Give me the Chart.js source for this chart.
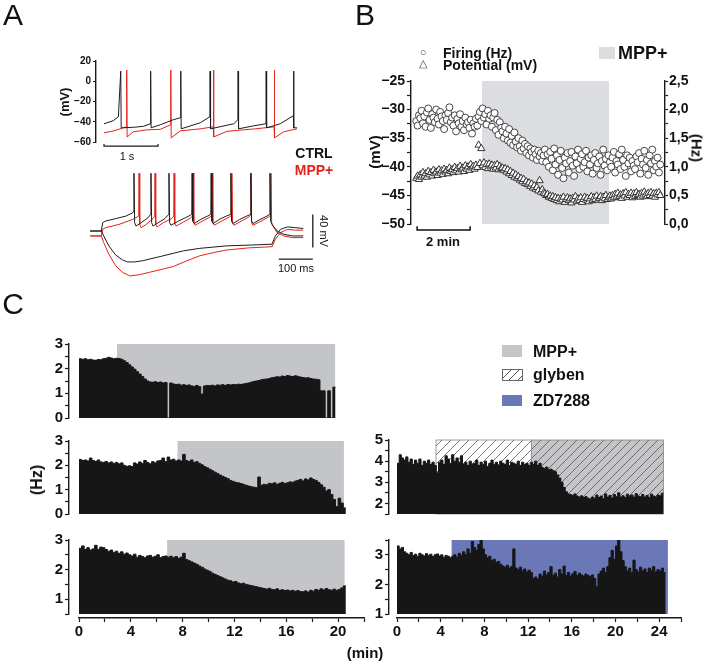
<!DOCTYPE html>
<html>
<head>
<meta charset="utf-8">
<script src="https://cdn.jsdelivr.net/npm/chart.js@4.4.1/dist/chart.umd.min.js"></script>
<style>
body { margin: 0; background: #fff; }
#fig { position: relative; width: 709px; height: 662px; overflow: hidden; font-family: "Liberation Sans", Arial, sans-serif; color: #111; }
#fig canvas { position: absolute; left: 0; top: 0; }
.t { position: absolute; white-space: nowrap; font-weight: bold; line-height: 1; transform: translate(-50%, -50%); }
.l { position: absolute; white-space: nowrap; font-weight: bold; line-height: 1; transform: translate(0, -50%); }
.box { position: absolute; }
</style>
</head>
<body>
<div id="fig">
  <canvas id="aTop" width="709" height="662"></canvas>
  <canvas id="aBot" width="709" height="662"></canvas>
  <canvas id="b" width="709" height="662"></canvas>
  <canvas id="c1" width="709" height="662"></canvas>
  <canvas id="c2" width="709" height="662"></canvas>
  <canvas id="c3" width="709" height="662"></canvas>
  <canvas id="c4" width="709" height="662"></canvas>
  <canvas id="c5" width="709" height="662"></canvas>
  <canvas id="cxL" width="709" height="662"></canvas>
  <canvas id="cxR" width="709" height="662"></canvas>

  <!-- panel letters -->
  <div class="t" style="left:13px;top:15px;font-size:30px;font-weight:normal">A</div>
  <div class="t" style="left:365px;top:15px;font-size:30px;font-weight:normal">B</div>
  <div class="t" style="left:13px;top:304px;font-size:30px;font-weight:normal">C</div>

  <!-- panel A -->
  <div class="t" style="left:64px;top:102px;font-size:13px;transform:translate(-50%,-50%) rotate(-90deg)">(mV)</div>
  <div class="t" style="left:127px;top:156px;font-size:11px;font-weight:normal">1 s</div>
  <div class="t" style="left:314px;top:153px;font-size:14px">CTRL</div>
  <div class="t" style="left:314px;top:170px;font-size:14px;color:#e2231a">MPP+</div>
  <div class="t" style="left:323px;top:231px;font-size:11px;font-weight:normal;transform:translate(-50%,-50%) rotate(90deg)">40 mV</div>
  <div class="t" style="left:296px;top:268px;font-size:11px;font-weight:normal">100 ms</div>

  <!-- panel B -->
  <div class="t" style="left:423px;top:52px;font-size:11px;font-weight:normal;color:#444">○</div>
  <div class="l" style="left:443px;top:53px;font-size:14px">Firing (Hz)</div>
  <div class="t" style="left:423px;top:63px;font-size:11px;font-weight:normal;color:#444">△</div>
  <div class="l" style="left:443px;top:65px;font-size:14px">Potential (mV)</div>
  <div class="box" style="left:599px;top:47px;width:16px;height:12px;background:#dcdde1"></div>
  <div class="l" style="left:618px;top:53px;font-size:18px">MPP+</div>
  <div class="t" style="left:374px;top:152px;font-size:15px;transform:translate(-50%,-50%) rotate(-90deg)">(mV)</div>
  <div class="t" style="left:697px;top:148px;font-size:15px;transform:translate(-50%,-50%) rotate(90deg)">(Hz)</div>
  <div class="t" style="left:443px;top:241px;font-size:13px">2 min</div>

  <!-- panel C -->
  <div class="box" style="left:502px;top:345px;width:20px;height:12px;background:#c4c5c9"></div>
  <div class="l" style="left:533px;top:352px;font-size:16px">MPP+</div>
  <div class="box" style="left:502px;top:369px;width:19px;height:10px;border:0.8px solid #666;background:repeating-linear-gradient(135deg,#fff 0 5px,#555 5px 6px)"></div>
  <div class="l" style="left:533px;top:375px;font-size:16px">glyben</div>
  <div class="box" style="left:502px;top:395px;width:20px;height:11px;background:#6a78b8"></div>
  <div class="l" style="left:533px;top:401px;font-size:16px">ZD7288</div>
  <div class="t" style="left:37px;top:480px;font-size:16px;transform:translate(-50%,-50%) rotate(-90deg)">(Hz)</div>
  <div class="t" style="left:365px;top:652px;font-size:15px">(min)</div>
</div>

<script>
// ---------------- data ----------------

// Panel A top: spontaneous firing, [s, mV]
const ctrlTop = [[0,-42],[0.17,-39],[0.266,-35],[0.31,10],[0.318,-46],[0.54,-45.5],[0.73,-44.5],[0.859,-42],[0.863,10],[0.871,-46],
  [1.04,-43],[1.28,-38],[1.416,-36],[1.42,10],[1.428,-47],[1.78,-41],[1.959,-35],[1.963,10],[1.971,-47],[2.40,-42],[2.477,-38],
  [2.481,10],[2.489,-47],[2.77,-44],[2.996,-42],[3.0,10],[3.008,-46],[3.26,-42],[3.502,-34],[3.506,10],[3.514,-46],[3.57,-46]];
const mppTop = [[0,-51],[0.18,-49],[0.416,-45],[0.42,11],[0.428,-55],[0.54,-50],[0.79,-48],[1.04,-47.5],[1.231,-43],[1.235,11],
  [1.243,-56],[1.41,-49],[1.78,-47],[2.021,-45],[2.025,11],[2.033,-55],[2.27,-49.5],[2.58,-48],[2.80,-47],[3.146,-45],[3.15,11],
  [3.158,-56],[3.32,-50],[3.57,-47]];

// Panel A bottom: current steps, [ms, mV]
const ctrlDep = [[-35,-60],[-2,-60],[2,-50],[10,-48],[40,-45],[70,-42],[90,-38],[93,-36],[94,10],[96,-50],[100,-54],[115,-50],
  [135,-44],[143,-40],[144,10],[146,-50],[150,-54],[165,-50],[185,-45],[196,-40],[197,10],[199,-50],[203,-53],[225,-48],[245,-44],
  [264,-40],[265,10],[267,-48],[271,-51],[290,-46],[310,-42],[320,-40],[321,10],[323,-48],[327,-51],[345,-46],[365,-42],[378,-40],
  [379,10],[381,-48],[385,-51],[405,-46],[425,-42],[437,-40],[438,10],[440,-48],[444,-51],[465,-46],[485,-42],[493,-40],[494,10],
  [496,-48],[500,-52],[515,-60],[535,-64],[560,-66],[592,-66]];
const mppDep = [[-35,-66],[-2,-66],[2,-58],[10,-56],[50,-52],[90,-46],[108,-42],[109,10],[111,-52],[115,-56],[130,-52],[150,-45],
  [155,-42],[156,10],[158,-52],[162,-55],[180,-50],[205,-45],[211,-42],[212,10],[214,-51],[218,-54],[240,-49],[262,-44],[267,-41],
  [268,10],[270,-50],[274,-53],[295,-48],[318,-43],[323,-41],[324,10],[326,-50],[330,-53],[352,-48],[375,-43],[381,-41],[382,10],
  [384,-50],[388,-53],[410,-48],[432,-43],[437,-41],[438,10],[440,-50],[444,-53],[468,-48],[490,-43],[496,-41],[497,10],[499,-50],
  [503,-54],[515,-62],[535,-66],[560,-68],[592,-68]];
const ctrlHyp = [[-35,-60],[-2,-60],[5,-66],[20,-78],[40,-89],[60,-95],[75,-97.5],[95,-97.5],[120,-96],[150,-93],[171,-91],
  [200,-88],[240,-84],[288,-81],[367,-78],[440,-77],[500,-76],[510,-66],[525,-58],[545,-55],[570,-56],[592,-57]];
const mppHyp = [[-35,-66],[-2,-66],[5,-74],[20,-88],[40,-102],[60,-110],[82,-114.5],[110,-113],[140,-110],[171,-107],[210,-103],
  [250,-96],[288,-90],[330,-86],[367,-83],[430,-80.5],[500,-79],[510,-70],[525,-62],[545,-58],[570,-59],[592,-59]];

// Panel B: one sample every 0.05 min starting at 0.2 min
const bStart = 0.2, bStep = 0.05;
const firingHz = [
  1.80,1.72,1.90,1.85,1.98,1.76,1.88,1.70,1.95,2.02, 1.82,1.68,1.92,1.86,1.78,2.00,1.84,1.74,1.96,1.88,
  1.80,1.66,1.90,1.82,1.94,2.04,1.78,1.86,1.72,1.90, 1.62,1.84,1.76,1.92,1.70,1.80,1.64,1.86,1.74,1.78,
  1.68,1.82,1.58,1.76,1.70,1.84,1.72,
  1.88,1.96,1.80,2.02,1.86,1.92,1.74,1.98,1.84,1.90, 1.70,1.86,1.94,1.64,1.82,1.56,1.78,1.68,
  1.62,1.50,1.70,1.58,1.46,1.66,1.42,1.54,1.38,1.60, 1.44,1.34,1.50,1.36,1.28,1.46,1.32,1.40,1.24,1.36,
  1.20,1.32,1.26,1.16,1.30,1.22,1.12,1.28,1.18,1.24, 1.10,1.20,
  1.30,1.08,1.22,1.00,1.26,1.14,0.94,1.32,1.04,1.20, 0.86,1.12,1.28,0.98,0.80,1.16,1.06,1.24,0.90,1.10,
  1.26,1.02,0.84,1.18,1.06,1.30,0.96,1.14,1.22,1.00, 1.08,1.28,0.92,1.16,1.04,1.20,0.88,1.12,1.24,0.98,
  1.06,1.18,0.86,1.10,1.30,1.02,1.14,0.94,1.20,1.08,
  1.00,1.16,1.26,0.90,1.10,1.04,1.22,0.96,1.30,1.12, 1.00,0.84,1.20,1.06,1.16,0.92,1.10,1.02,0.96,1.18,
  1.08,1.24,0.88,1.14,1.04,1.28,0.98,1.12,0.86,1.20, 1.06,1.30,0.94,1.10,1.00,1.16,0.90,1.04];
const potentialMv = [
  -42.0,-41.6,-42.2,-41.4,-41.8,-41.0,-41.6,-41.2,-41.8,-40.8, -41.4,-41.0,-41.6,-40.6,-41.2,-40.9,-41.5,-40.5,-41.1,-40.7,
  -41.3,-40.4,-40.9,-40.6,-41.2,-40.2,-40.8,-40.5,-41.0,-40.1, -40.7,-40.3,-40.9,-39.9,-40.5,-40.2,-40.8,-39.8,-40.4,-40.0,
  -40.6,-39.6,-40.2,-39.9,-40.4,-39.7,-40.1,
  -36.2,-39.4,-36.8,-39.8,-39.3,-40.1,-39.6,-40.3,-39.5,-40.0, -39.7,-40.4,-39.8,-40.2,-39.6,-40.5,-39.9,-40.3,
  -40.2,-40.6,-40.3,-40.9,-40.5,-41.2,-40.8,-41.5,-41.1,-41.8, -41.4,-42.0,-41.7,-42.3,-42.0,-42.6,-42.2,-42.9,-42.6,-43.1,
  -42.8,-43.4,-43.0,-43.7,-43.3,-43.9,-43.6,-44.2,-42.4,-44.4, -44.0,-44.6,
  -44.7,-45.0,-44.8,-45.3,-45.1,-45.5,-45.2,-45.7,-45.4,-45.9, -45.5,-46.1,-45.6,-45.8,-45.3,-46.2,-45.7,-45.4,-45.9,-45.6,
  -46.3,-45.5,-45.8,-45.2,-46.0,-45.6,-45.9,-45.4,-46.2,-45.7, -45.3,-45.8,-45.5,-46.1,-45.6,-45.2,-45.9,-45.4,-45.7,-45.1,
  -45.8,-45.5,-45.2,-45.9,-45.3,-45.6,-45.0,-45.7,-45.4,-45.1,
  -45.6,-45.0,-45.4,-44.8,-45.3,-44.6,-45.2,-44.9,-45.5,-44.7, -45.1,-44.5,-45.3,-44.8,-45.0,-44.6,-45.4,-44.7,-45.2,-44.5,
  -45.0,-44.8,-45.3,-44.6,-45.1,-44.4,-44.9,-45.2,-44.6,-45.0, -44.5,-45.1,-44.7,-45.3,-44.6,-44.9,-44.5,-45.0];

// Panel C: firing rate histograms, 0.2 min bins starting at 0 min
const BIN = 0.2;
const rateMpp1 = [2.40,2.38,2.40,2.36,2.38,2.35,2.34,2.37,2.36,2.40,2.42,2.46,2.43,2.40,2.42,2.41,2.38,
  2.32,2.25,2.16,2.07,1.98,1.88,1.78,1.68,1.58,1.50,1.46,
  1.45,1.47,1.44,1.46,1.42,1.44,0,
  1.42,1.38,1.36,1.37,1.33,1.35,1.32,1.34,1.30,1.28,1.32,1.27,0.97,
  1.30,1.32,1.31,1.33,1.30,1.34,1.33,1.35,1.32,1.36,1.34,1.36,1.35,1.37,1.36,1.38,1.40,
  1.42,1.45,1.48,1.50,1.52,1.55,1.57,1.58,1.60,1.63,
  1.65,1.67,1.66,1.70,1.68,1.72,1.70,1.68,1.71,1.69,1.66,
  1.64,1.62,1.63,1.60,1.58,1.57,1.55,
  1.10,1.10,0,1.10,0,1.25];
const rateMpp2 = [2.24,2.20,2.22,2.18,2.30,2.20,2.16,2.22,2.14,
  2.12,2.16,2.10,2.14,2.08,2.12,2.06,2.10,
  2.00,1.96,1.98,1.95,
  2.10,2.05,2.14,2.08,2.20,2.12,2.06,2.15,2.10,2.18,
  2.20,2.30,2.15,2.34,2.22,2.25,2.18,
  2.22,2.18,2.45,2.20,
  2.16,2.22,2.12,2.15,2.08,
  2.02,1.95,1.90,1.84,1.78,1.72,1.66,1.60,1.55,1.50,1.45,
  1.38,1.34,1.30,1.28,1.25,1.22,1.18,
  1.15,1.12,1.10,1.08,1.52,
  1.18,1.22,1.20,1.26,1.24,1.28,1.22,1.26,1.30,1.25,1.28,1.32,1.30,
  1.35,1.38,1.42,1.36,1.44,1.40,1.48,1.42,1.38,
  1.30,1.20,1.10,0.95,1.00,0.80,
  0.60,0.30,0.65,0.45,0.25];
const rateMpp3 = [2.72,2.80,2.68,2.74,2.66,2.70,2.82,2.68,2.76,
  2.74,2.68,2.62,2.66,2.58,2.62,2.55,2.60,2.52,2.56,
  2.50,2.46,2.52,2.42,2.48,2.44,2.40,2.46,
  2.48,2.42,2.45,2.50,2.40,2.44,2.46,2.42,
  2.45,2.40,2.44,2.38,2.42,2.55,
  2.34,2.30,2.26,2.22,2.18,2.12,2.08,
  2.02,1.98,1.94,1.88,1.84,1.80,1.76,1.72,1.68,1.64,
  1.62,1.58,1.60,1.55,1.52,1.54,1.50,1.48,1.46,1.44,1.42,1.40,1.38,
  1.36,1.34,1.37,1.33,1.32,1.35,1.30,1.32,1.29,1.31,1.28,1.30,1.27,1.29,1.26,
  1.25,1.28,1.24,1.30,1.27,1.33,1.30,1.35,1.31,1.36,1.32,1.30,1.34,1.30,1.33,1.38,1.45];
const rateGlyben = [3.90,4.30,4.15,4.05,4.20,3.95,4.10,
  3.85,4.05,3.90,4.10,3.80,4.00,3.90,4.05,3.85,3.95,3.80,
  3.45,
  3.95,4.05,3.85,4.25,4.10,3.90,4.30,4.00,4.15,3.95,4.25,3.85,
  3.95,3.80,4.00,3.85,3.90,4.05,3.80,3.95,3.85,4.00,3.75,3.90,4.05,3.85,3.95,3.80,4.00,3.90,3.85,4.05,3.80,3.95,3.90,3.85,4.00,
  3.80,3.95,3.85,3.90,3.80,3.95,3.85,4.00,3.80,3.90,
  3.70,3.65,3.72,3.60,3.62,3.55,3.50,
  3.35,3.20,3.00,
  2.75,2.55,2.45,
  2.42,2.38,2.45,2.35,2.30,2.36,2.28,2.32,2.25,
  2.20,2.30,2.25,2.40,2.28,2.35,2.22,2.45,2.30,2.38,2.26,2.42,2.32,2.50,2.30,2.36,2.28,2.44,2.34,2.40,2.30,2.46,2.35,2.32,
  2.42,2.30,2.38,2.28,2.44,2.35,2.30,2.40,2.36,2.48];
const rateZd = [3.30,3.20,3.25,3.10,
  3.05,3.00,3.08,2.98,3.02,2.95,3.05,3.00,2.96,3.04,2.98,3.02,2.94,3.00,3.03,2.96,3.00,2.92,2.98,2.95,2.90,
  2.95,3.00,2.92,3.05,2.98,3.10,3.00,3.20,3.05,3.45,
  3.25,3.15,3.35,3.50,3.20,
  3.00,2.90,2.95,2.80,2.85,2.75,2.78,2.68,
  2.62,2.58,2.65,2.55,2.60,3.20,
  2.55,2.50,2.58,2.45,2.52,2.42,2.48,2.40,
  2.20,2.25,2.18,
  2.35,2.28,2.45,2.32,2.40,2.60,2.30,2.38,2.25,2.50,2.35,2.62,2.30,2.40,2.28,2.36,2.44,2.30,2.38,2.32,2.28,2.35,2.30,2.26,2.32,
  2.20,1.92,2.35,
  2.45,2.55,2.40,2.60,
  2.90,3.15,2.85,3.30,3.50,3.10,2.80,
  2.60,2.45,2.55,2.40,2.82,2.50,2.42,2.58,2.45,2.52,2.40,2.55,2.48,2.60,2.42,2.50,2.45,2.55,2.40];

// drug application periods (min)
const mppOn1 = [2.93, 19.77];
const mppOn2 = [7.6, 20.45];
const mppOn3 = [6.8, 20.5];
const glybenOn = [3.57, 12.3];
const glybenMppOn = [12.3, 24.4];
const zdOn = [5.0, 24.8];
const mppOnB = [2.68, 7.47];

// ---------------- setup ----------------
const W = 709, H = 662;
const INK = '#161616', RED = '#e2231a';
const GRAY_B = '#dcdde1', GRAY_C = '#c4c5c9', BLUE = '#6a78b8';

Chart.defaults.font.family = '"Liberation Sans", Arial, sans-serif';
Chart.defaults.animation = false;
Chart.defaults.responsive = false;
Chart.defaults.plugins.legend.display = false;
Chart.defaults.plugins.tooltip.enabled = false;

// layout padding so that the chart area lands on [left, top, right, bottom]
function pad(area, leftW, rightW, bottomH) {
  return { left: area[0] - leftW, top: area[1], right: W - area[2] - rightW, bottom: H - area[3] - bottomH };
}

const toXY = a => a.map(p => ({ x: p[0], y: p[1] }));
const minus = v => String(v).replace('-', '\u2212');
const every = (n, f) => v => Math.abs(v / n - Math.round(v / n)) < 1e-6 ? f(v) : '';

function hidden(min, max) {
  return { type: 'linear', display: false, min: min, max: max };
}

function yAxis(o) {
  return {
    type: 'linear',
    position: o.pos || 'left',
    min: o.min,
    max: o.max,
    afterFit: s => { s.width = o.width; },
    border: { color: '#1a1a1a', width: 1.4 },
    grid: { drawOnChartArea: false, tickLength: o.tick || 4, tickColor: '#1a1a1a', tickWidth: 1.2 },
    ticks: {
      stepSize: o.step, autoSkip: false, padding: o.padding === undefined ? 2 : o.padding,
      color: '#111', font: { size: o.size, weight: 'bold' }, callback: o.fmt
    }
  };
}

// diagonal hatch used for glyben
function hatchPattern(ctx) {
  const c = document.createElement('canvas');
  c.width = 9; c.height = 9;
  const g = c.getContext('2d');
  g.strokeStyle = '#555';
  g.lineWidth = 0.8;
  g.beginPath();
  g.moveTo(-1, 1); g.lineTo(1, -1);
  g.moveTo(0, 9); g.lineTo(9, 0);
  g.moveTo(8, 10); g.lineTo(10, 8);
  g.stroke();
  return ctx.createPattern(c, 'repeat');
}

// shaded drug periods drawn behind the data
function shade(boxes) {
  return {
    id: 'shade',
    beforeDatasetsDraw(chart) {
      const { ctx, chartArea } = chart;
      const x = chart.scales.x;
      boxes.forEach(b => {
        const y = chart.scales[b.axis || 'y'];
        const x0 = x.getPixelForValue(b.from), x1 = x.getPixelForValue(b.to);
        const y0 = y.getPixelForValue(b.top);
        const y1 = b.bottom === undefined ? chartArea.bottom : y.getPixelForValue(b.bottom);
        ctx.save();
        ctx.fillStyle = b.color;
        ctx.fillRect(x0, y0, x1 - x0, y1 - y0);
        if (b.hatch) {
          ctx.fillStyle = hatchPattern(ctx);
          ctx.fillRect(x0, y0, x1 - x0, y1 - y0);
          ctx.strokeStyle = '#888';
          ctx.lineWidth = 0.8;
          ctx.strokeRect(x0, y0, x1 - x0, y1 - y0);
        }
        ctx.restore();
      });
    }
  };
}

function trace(data, color, width) {
  return { data: toXY(data), borderColor: color, borderWidth: width || 1, pointRadius: 0, tension: 0 };
}

// ---------------- panel A ----------------
const oneSecBar = [[0, -62], [0, -64], [1, -64], [1, -62]];
new Chart(document.getElementById('aTop'), {
  type: 'line',
  data: {
    datasets: [
      trace(ctrlTop, '#1c1c1c'),
      trace(mppTop, RED),
      Object.assign(trace(oneSecBar, '#1c1c1c', 1.2), { clip: false })
    ]
  },
  options: {
    layout: { padding: pad([96, 61, 297, 142], 40, 0, 0) },
    scales: {
      x: hidden(-0.148, 3.57),
      y: yAxis({ min: -60, max: 20, step: 20, width: 40, size: 10, tick: 3, fmt: minus })
    }
  }
});

const mvBar = [[620, -40], [620, -80]];
const msBar = [[520, -94], [620, -94]];
new Chart(document.getElementById('aBot'), {
  type: 'line',
  data: {
    datasets: [
      trace(ctrlDep, '#1c1c1c'),
      trace(ctrlHyp, '#1c1c1c'),
      trace(mppDep, RED),
      trace(mppHyp, RED),
      trace(mvBar, '#1c1c1c', 1.3),
      trace(msBar, '#1c1c1c', 1.3)
    ]
  },
  options: {
    layout: { padding: pad([90, 165, 340, 281], 0, 0, 0) },
    scales: { x: hidden(-35.3, 700), y: hidden(-120.6, 20) }
  }
});

// ---------------- panel B ----------------
const twoMinBar = [[0.23, -50.4], [0.23, -51.05], [2.23, -51.05], [2.23, -50.4]];
new Chart(document.getElementById('b'), {
  type: 'scatter',
  data: {
    datasets: [
      {
        data: firingHz.map((v, i) => ({ x: bStart + i * bStep, y: v })), yAxisID: 'y2',
        pointStyle: 'circle', pointRadius: 3.5, pointBorderWidth: 0.9,
        pointBackgroundColor: '#fff', pointBorderColor: '#333'
      },
      {
        data: potentialMv.map((v, i) => ({ x: bStart + i * bStep, y: v })), yAxisID: 'y',
        pointStyle: 'triangle', pointRadius: 4.2, pointBorderWidth: 1,
        pointBackgroundColor: '#fff', pointBorderColor: '#333'
      },
      {
        type: 'line', data: toXY(twoMinBar), yAxisID: 'y', borderColor: '#111',
        borderWidth: 1.5, pointRadius: 0, clip: false
      }
    ]
  },
  options: {
    layout: { padding: pad([411, 81, 665, 224], 45, 40, 0) },
    scales: {
      x: hidden(0, 9.58),
      y: yAxis({ min: -50, max: -25, step: 2.5, width: 45, size: 14, fmt: every(5, minus) }),
      y2: yAxis({
        pos: 'right', min: 0, max: 2.5, step: 0.25, width: 40, size: 14, tick: 3, padding: 1,
        fmt: every(0.5, v => v.toFixed(1).replace('.', ','))
      })
    }
  },
  plugins: [shade([{ axis: 'y', from: mppOnB[0], to: mppOnB[1], top: -25, bottom: -50, color: GRAY_B }])]
});

// ---------------- panel C ----------------
function steps(vals, bw) {
  const pts = vals.map((v, i) => ({ x: i * bw, y: v }));
  pts.push({ x: vals.length * bw, y: vals[vals.length - 1] });
  return pts;
}

const LEFT_X = [-0.772, 22], RIGHT_X = [-0.733, 26];

function histChart(id, area, vals, yMin, yMax, xr, boxes) {
  new Chart(document.getElementById(id), {
    type: 'line',
    data: {
      datasets: [{
        data: steps(vals, BIN), stepped: true, fill: 'start',
        backgroundColor: INK, borderColor: INK, borderWidth: 1, pointRadius: 0
      }]
    },
    options: {
      layout: { padding: pad(area, 30, 0, 0) },
      scales: {
        x: hidden(xr[0], xr[1]),
        y: yAxis({ min: yMin, max: yMax, step: 0.5, width: 30, size: 15, fmt: every(1, v => v) })
      }
    },
    plugins: [shade(boxes.map(b => Object.assign({ top: yMax }, b)))]
  });
}

histChart('c1', [69, 344, 364, 418], rateMpp1, 0, 3, LEFT_X,
  [{ from: mppOn1[0], to: mppOn1[1], color: GRAY_C }]);
histChart('c2', [69, 441, 364, 514], rateMpp2, 0, 3, LEFT_X,
  [{ from: mppOn2[0], to: mppOn2[1], color: GRAY_C }]);
histChart('c3', [69, 540, 364, 614], rateMpp3, 0.5, 3, LEFT_X,
  [{ from: mppOn3[0], to: mppOn3[1], color: GRAY_C }]);
histChart('c4', [389, 440, 681, 514], rateGlyben, 1.5, 5, RIGHT_X,
  [{ from: glybenOn[0], to: glybenOn[1], color: '#fff', hatch: true },
   { from: glybenMppOn[0], to: glybenMppOn[1], color: GRAY_C, hatch: true }]);
histChart('c5', [389, 540, 681, 614], rateZd, 1, 3.5, RIGHT_X,
  [{ from: zdOn[0], to: zdOn[1], color: BLUE }]);

// time axes under the bottom histograms
function timeAxis(id, area, max) {
  new Chart(document.getElementById(id), {
    type: 'line',
    data: { datasets: [] },
    options: {
      layout: { padding: pad(area, 0, 0, 30) },
      scales: {
        x: {
          type: 'linear', min: 0, max: max,
          afterFit: s => { s.height = 30; },
          border: { color: '#1a1a1a', width: 1.4 },
          grid: { drawOnChartArea: false, tickLength: 4, tickColor: '#1a1a1a', tickWidth: 1.2 },
          ticks: {
            stepSize: 2, autoSkip: false, maxRotation: 0, padding: 1, color: '#111',
            font: { size: 15, weight: 'bold' }, callback: every(4, v => v)
          }
        },
        y: { display: false, min: 0, max: 1 }
      }
    }
  });
}

timeAxis('cxL', [79, 610, 364, 618], 22);
timeAxis('cxR', [397, 610, 681, 618], 26);
</script>
</body>
</html>
